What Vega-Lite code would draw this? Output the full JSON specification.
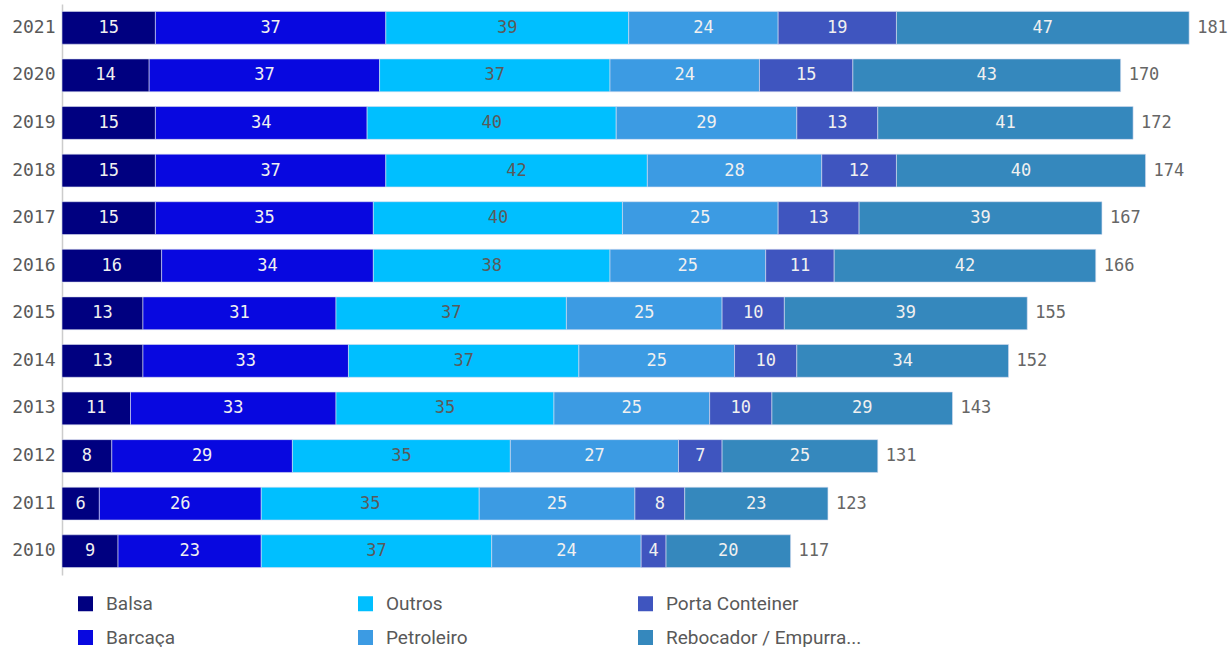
{
  "$schema": "https://vega.github.io/schema/vega-lite/v6.json",
  "autosize": {"type": "none"},
  "padding": {"left": 62, "top": 4, "right": 0, "bottom": 72},
  "width": 1167,
  "height": 571,
  "background": "white",
  "config": {"view": {"stroke": null}},
  "data": {"values": [
    {"year": "2021", "category": "Balsa", "ord": 1, "value": 15},
    {"year": "2021", "category": "Barcaça", "ord": 2, "value": 37},
    {"year": "2021", "category": "Outros", "ord": 3, "value": 39},
    {"year": "2021", "category": "Petroleiro", "ord": 4, "value": 24},
    {"year": "2021", "category": "Porta Conteiner", "ord": 5, "value": 19},
    {"year": "2021", "category": "Rebocador / Empurrador", "ord": 6, "value": 47},
    {"year": "2020", "category": "Balsa", "ord": 1, "value": 14},
    {"year": "2020", "category": "Barcaça", "ord": 2, "value": 37},
    {"year": "2020", "category": "Outros", "ord": 3, "value": 37},
    {"year": "2020", "category": "Petroleiro", "ord": 4, "value": 24},
    {"year": "2020", "category": "Porta Conteiner", "ord": 5, "value": 15},
    {"year": "2020", "category": "Rebocador / Empurrador", "ord": 6, "value": 43},
    {"year": "2019", "category": "Balsa", "ord": 1, "value": 15},
    {"year": "2019", "category": "Barcaça", "ord": 2, "value": 34},
    {"year": "2019", "category": "Outros", "ord": 3, "value": 40},
    {"year": "2019", "category": "Petroleiro", "ord": 4, "value": 29},
    {"year": "2019", "category": "Porta Conteiner", "ord": 5, "value": 13},
    {"year": "2019", "category": "Rebocador / Empurrador", "ord": 6, "value": 41},
    {"year": "2018", "category": "Balsa", "ord": 1, "value": 15},
    {"year": "2018", "category": "Barcaça", "ord": 2, "value": 37},
    {"year": "2018", "category": "Outros", "ord": 3, "value": 42},
    {"year": "2018", "category": "Petroleiro", "ord": 4, "value": 28},
    {"year": "2018", "category": "Porta Conteiner", "ord": 5, "value": 12},
    {"year": "2018", "category": "Rebocador / Empurrador", "ord": 6, "value": 40},
    {"year": "2017", "category": "Balsa", "ord": 1, "value": 15},
    {"year": "2017", "category": "Barcaça", "ord": 2, "value": 35},
    {"year": "2017", "category": "Outros", "ord": 3, "value": 40},
    {"year": "2017", "category": "Petroleiro", "ord": 4, "value": 25},
    {"year": "2017", "category": "Porta Conteiner", "ord": 5, "value": 13},
    {"year": "2017", "category": "Rebocador / Empurrador", "ord": 6, "value": 39},
    {"year": "2016", "category": "Balsa", "ord": 1, "value": 16},
    {"year": "2016", "category": "Barcaça", "ord": 2, "value": 34},
    {"year": "2016", "category": "Outros", "ord": 3, "value": 38},
    {"year": "2016", "category": "Petroleiro", "ord": 4, "value": 25},
    {"year": "2016", "category": "Porta Conteiner", "ord": 5, "value": 11},
    {"year": "2016", "category": "Rebocador / Empurrador", "ord": 6, "value": 42},
    {"year": "2015", "category": "Balsa", "ord": 1, "value": 13},
    {"year": "2015", "category": "Barcaça", "ord": 2, "value": 31},
    {"year": "2015", "category": "Outros", "ord": 3, "value": 37},
    {"year": "2015", "category": "Petroleiro", "ord": 4, "value": 25},
    {"year": "2015", "category": "Porta Conteiner", "ord": 5, "value": 10},
    {"year": "2015", "category": "Rebocador / Empurrador", "ord": 6, "value": 39},
    {"year": "2014", "category": "Balsa", "ord": 1, "value": 13},
    {"year": "2014", "category": "Barcaça", "ord": 2, "value": 33},
    {"year": "2014", "category": "Outros", "ord": 3, "value": 37},
    {"year": "2014", "category": "Petroleiro", "ord": 4, "value": 25},
    {"year": "2014", "category": "Porta Conteiner", "ord": 5, "value": 10},
    {"year": "2014", "category": "Rebocador / Empurrador", "ord": 6, "value": 34},
    {"year": "2013", "category": "Balsa", "ord": 1, "value": 11},
    {"year": "2013", "category": "Barcaça", "ord": 2, "value": 33},
    {"year": "2013", "category": "Outros", "ord": 3, "value": 35},
    {"year": "2013", "category": "Petroleiro", "ord": 4, "value": 25},
    {"year": "2013", "category": "Porta Conteiner", "ord": 5, "value": 10},
    {"year": "2013", "category": "Rebocador / Empurrador", "ord": 6, "value": 29},
    {"year": "2012", "category": "Balsa", "ord": 1, "value": 8},
    {"year": "2012", "category": "Barcaça", "ord": 2, "value": 29},
    {"year": "2012", "category": "Outros", "ord": 3, "value": 35},
    {"year": "2012", "category": "Petroleiro", "ord": 4, "value": 27},
    {"year": "2012", "category": "Porta Conteiner", "ord": 5, "value": 7},
    {"year": "2012", "category": "Rebocador / Empurrador", "ord": 6, "value": 25},
    {"year": "2011", "category": "Balsa", "ord": 1, "value": 6},
    {"year": "2011", "category": "Barcaça", "ord": 2, "value": 26},
    {"year": "2011", "category": "Outros", "ord": 3, "value": 35},
    {"year": "2011", "category": "Petroleiro", "ord": 4, "value": 25},
    {"year": "2011", "category": "Porta Conteiner", "ord": 5, "value": 8},
    {"year": "2011", "category": "Rebocador / Empurrador", "ord": 6, "value": 23},
    {"year": "2010", "category": "Balsa", "ord": 1, "value": 9},
    {"year": "2010", "category": "Barcaça", "ord": 2, "value": 23},
    {"year": "2010", "category": "Outros", "ord": 3, "value": 37},
    {"year": "2010", "category": "Petroleiro", "ord": 4, "value": 24},
    {"year": "2010", "category": "Porta Conteiner", "ord": 5, "value": 4},
    {"year": "2010", "category": "Rebocador / Empurrador", "ord": 6, "value": 20}
  ]},
  "encoding": {
    "y": {
      "field": "year", "type": "nominal",
      "sort": "descending",
      "scale": {"paddingInner": 0.31, "paddingOuter": 0.155},
      "axis": {
        "title": null, "ticks": false, "domainColor": "#cccccc", "domainWidth": 1.5,
        "labelFont": "DejaVu Sans Mono", "labelFontSize": 18, "labelColor": "#595959",
        "labelPadding": 7
      }
    }
  },
  "layer": [
    {
      "mark": {"type": "bar", "stroke": "#d8def0", "strokeWidth": 0.6},
      "encoding": {
        "x": {"field": "value", "type": "quantitative", "stack": "zero",
              "scale": {"domain": [0, 187.4], "nice": false}, "axis": null},
        "order": {"field": "ord", "type": "quantitative"},
        "color": {
          "field": "category", "type": "nominal",
          "scale": {
            "domain": ["Balsa", "Barcaça", "Outros", "Petroleiro", "Porta Conteiner", "Rebocador / Empurrador"],
            "range": ["#000080", "#0808e0", "#00bfff", "#3c9be3", "#3f55bf", "#3588bd"]
          },
          "legend": {
            "title": null, "orient": "none", "legendX": 14, "legendY": 590,
            "columns": 3, "gridAlign": "all", "columnPadding": 54, "rowPadding": 14,
            "symbolType": "square", "symbolSize": 225, "symbolStrokeWidth": 0,
            "labelFont": "Roboto", "labelFontSize": 19, "labelColor": "#595959",
            "labelOffset": 11, "labelLimit": 300,
            "labelExpr": "datum.label === 'Rebocador / Empurrador' ? 'Rebocador / Empurra...' : datum.label"
          }
        }
      }
    },
    {
      "mark": {"type": "text", "font": "DejaVu Sans Mono", "fontSize": 17, "baseline": "middle", "align": "center"},
      "encoding": {
        "x": {"field": "value", "type": "quantitative", "stack": "zero", "bandPosition": 0.5},
        "order": {"field": "ord", "type": "quantitative"},
        "detail": {"field": "category"},
        "text": {"field": "value", "type": "quantitative"},
        "color": {"condition": {"test": "datum.category === 'Outros'", "value": "#5a5a5a"}, "value": "#f0f0f0"}
      }
    },
    {
      "transform": [{"aggregate": [{"op": "sum", "field": "value", "as": "total"}], "groupby": ["year"]}],
      "mark": {"type": "text", "font": "DejaVu Sans Mono", "fontSize": 17, "baseline": "middle", "align": "left", "dx": 8, "color": "#666666"},
      "encoding": {
        "x": {"field": "total", "type": "quantitative"},
        "text": {"field": "total", "type": "quantitative"}
      }
    }
  ]
}
